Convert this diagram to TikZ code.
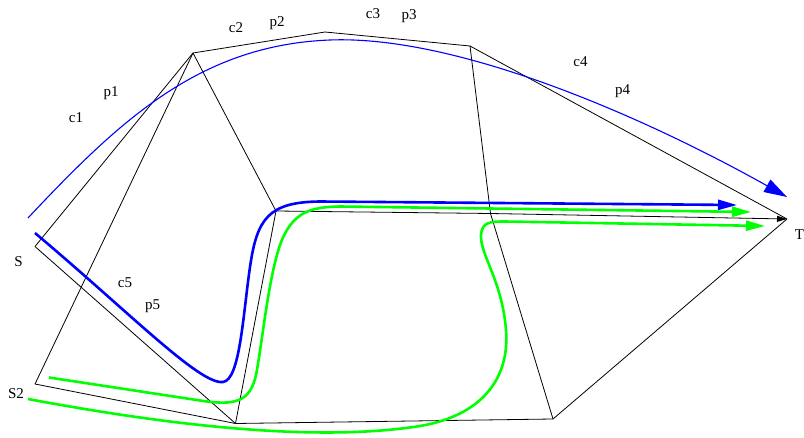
\documentclass[tikz,border=0pt]{standalone}
\usepackage{fontspec}
\setmainfont{Liberation Serif}
\usetikzlibrary{arrows.meta}
\begin{document}
\begin{tikzpicture}[x=1pt,y=-1pt,
  edge/.style={draw=black,line width=0.8pt,line join=round},
  lbl/.style={anchor=base,inner sep=0pt,font=\fontsize{15}{17}\selectfont},
  bluethin/.style={draw=blue,line width=1.1pt,-{Triangle[length=23pt,width=14pt]}},
  bluethick/.style={draw=blue,line width=2.6pt,-{Triangle[length=19pt,width=10pt]}},
  greenthick/.style={draw=green,line width=2.6pt,-{Triangle[length=19pt,width=10pt]}},
  blackarrow/.style={edge,-{Triangle[length=10pt,width=6pt]}}]
\useasboundingbox (0,0) rectangle (804,438);
% vertices
\coordinate (S) at (35,246.5);
\coordinate (S2) at (35,384);
\coordinate (A) at (193,53);
\coordinate (B) at (325,32);
\coordinate (C) at (470,46);
\coordinate (T) at (787,219);
\coordinate (D) at (276,211);
\coordinate (E) at (490.5,213.5);
\coordinate (F) at (235.5,423.5);
\coordinate (G) at (553,419);
% black edges
\draw[edge] (S) -- (A);
\draw[edge] (S2) -- (A);
\draw[edge] (A) -- (B);
\draw[edge] (B) -- (C);
\draw[edge] (C) -- (T);
\draw[edge] (A) -- (D);
\draw[edge] (C) -- (E);
\draw[edge] (E) -- (G);
\draw[edge] (G) -- (T);
\draw[edge] (S) -- (F);
\draw[edge] (S2) -- (F);
\draw[edge] (D) -- (F);
\draw[edge] (F) -- (G);
\draw[blackarrow] (D) -- (E) -- (T);
% colored paths
\coordinate (b1s) at (28,218);
\coordinate (b1e) at (787,197);
\draw[bluethin] (b1s) .. controls (120,120) and (200,45) .. (330,40)
  .. controls (460,35) and (650,120) .. (b1e);
\coordinate (b2s) at (35,233);
\coordinate (b2e) at (737,205);
\draw[bluethick] (b2s) .. controls (130,313) and (200,385) .. (223,382)
  .. controls (240,380) and (243,315) .. (250,267)
  .. controls (257,219) and (268,202) .. (320,201.5) -- (b2e);
\coordinate (g1s) at (49,377.5);
\coordinate (g1e) at (751,212);
\draw[greenthick] (g1s) -- (200,400.5) .. controls (235,406) and (250,402) .. (256,375)
  .. controls (262,345) and (268,280) .. (280,245)
  .. controls (292,212) and (310,207) .. (340,206.5) -- (g1e);
\coordinate (g2s) at (28,399);
\coordinate (g2e) at (765,226);
\draw[greenthick] (g2s) .. controls (130,418) and (300,445) .. (420,426)
  .. controls (480,416) and (510,380) .. (506,330)
  .. controls (502,280) and (480,255) .. (481,235)
  .. controls (482,222) and (490,221.5) .. (505,221.5) -- (g2e);
% labels
\node[lbl] (lc1) at (76,122.5) {c1};
\node[lbl] (lp1) at (111,97) {p1};
\node[lbl] (lc2) at (236,33) {c2};
\node[lbl] (lp2) at (277,27) {p2};
\node[lbl] (lc3) at (373,19) {c3};
\node[lbl] (lp3) at (409,20) {p3};
\node[lbl] (lc4) at (580.5,66.5) {c4};
\node[lbl] (lp4) at (622.5,95) {p4};
\node[lbl] (lc5) at (125,287.5) {c5};
\node[lbl] (lp5) at (152.5,309.5) {p5};
\node[lbl] (lS) at (18.5,266.5) {S};
\node[lbl] (lS2) at (16,399) {S2};
\node[lbl] (lT) at (799.5,240) {T};
\end{tikzpicture}
\end{document}
